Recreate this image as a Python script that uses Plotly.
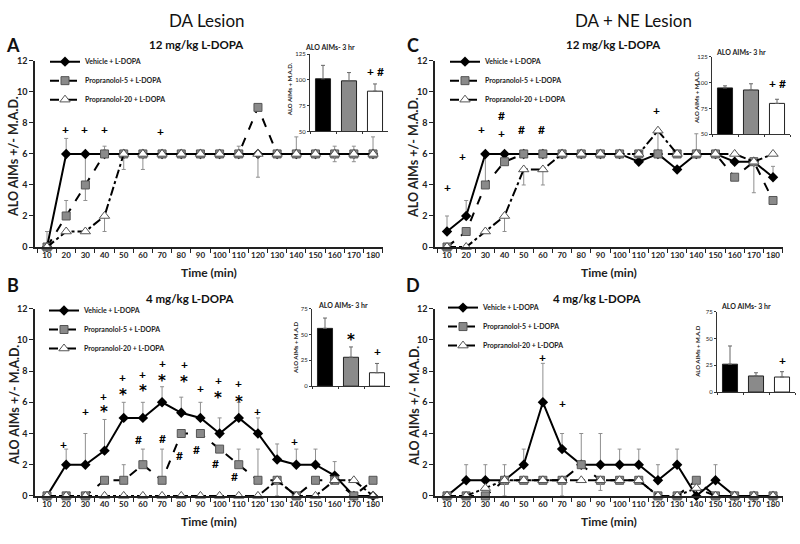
import plotly.graph_objects as go

# ---------------- DATA ----------------
times = ["10", "20", "30", "40", "50", "60", "70", "80", "90", "100",
         "110", "120", "130", "140", "150", "160", "170", "180"]
y_ticks = [0, 2, 4, 6, 8, 10, 12]
groups = ["Vehicle + L-DOPA", "Propranolol-5 + L-DOPA", "Propranolol-20 + L-DOPA"]
bar_cats = ["Vehicle", "Propranolol-5", "Propranolol-20"]

# Panel A: DA lesion, 12 mg/kg
A_veh = [0, 6, 6, 6, 6, 6, 6, 6, 6, 6, 6, 6, 6, 6, 6, 6, 6, 6]
A_veh_up = [1, 1, 0, 0, 0, 0, 0, 0, 0, 0, 0, 0, 0, 1.1, 0, 0, 0, 1.1]
A_veh_dn = [0, 0, 3, 0, 0, 0, 0, 0, 0, 0, 0, 0, 0, 0, 0, 0, 0, 0]
A_p5 = [0, 2, 4, 6, 6, 6, 6, 6, 6, 6, 6, 9, 6, 6, 6, 6, 6, 6]
A_p5_up = [0, 1, 0, 0.5, 0, 0, 0, 0, 0, 0, 0.5, 0, 0, 0, 0, 0, 0, 0]
A_p5_dn = [0] * 18
A_p20 = [0, 1, 1, 2, 6, 6, 6, 6, 6, 6, 6, 6, 6, 6, 6, 6, 6, 6]
A_p20_up = [0, 0, 0, 0, 0, 0, 0, 0, 0, 0, 0, 0, 0, 0, 0, 0.5, 0.5, 0]
A_p20_dn = [0, 0, 0, 1, 1, 1, 0, 0, 0, 0, 0, 1.5, 0, 0, 0, 0.5, 0.5, 0]

# Panel C: DA + NE lesion, 12 mg/kg
C_veh = [1, 2, 6, 6, 6, 6, 6, 6, 6, 6, 5.5, 6, 5, 6, 6, 5.5, 5.5, 4.5]
C_veh_up = [1, 1, 0, 0, 0, 0, 0, 0, 0, 0, 0, 0, 0, 0, 0, 0, 0, 0.7]
C_veh_dn = [0, 0, 2, 0, 0, 0, 0, 0, 0, 0, 0, 0, 0, 0, 0, 0, 0, 0]
C_p5 = [0, 1, 4, 5.5, 6, 6, 6, 6, 6, 6, 6, 6, 6, 6, 6, 4.5, 5.5, 3]
C_p5_up = [0] * 18
C_p5_dn = [0] * 18
C_p20 = [0, 0, 1, 2, 5, 5, 6, 6, 6, 6, 6, 7.5, 6, 6, 6, 6, 5.5, 6]
C_p20_up = [0, 0, 0, 0, 0, 0, 0, 0, 0, 0, 0, 0, 0, 1.3, 0, 0, 0, 0]
C_p20_dn = [0, 0, 0, 1, 1, 1, 0, 0, 0, 0, 0, 1.5, 0, 0, 0, 0, 2, 0]

# Panel B: DA lesion, 4 mg/kg
B_veh = [0, 2, 2, 2.9, 5, 5, 6, 5.33, 5, 4, 5, 4, 2.33, 2, 2, 1.3, 0, 0]
B_veh_up = [0, 1, 2, 2, 1, 1, 1, 1, 1, 1, 1, 1, 1, 1, 1, 0.9, 0, 0]
B_veh_dn = [0] * 18
B_p5 = [0, 0, 0, 1, 1, 2, 1, 4, 4, 3, 2, 1, 1, 0, 1, 1, 0, 1]
B_p5_up = [0, 0, 0, 0, 1, 1, 2, 0, 0, 0, 1, 2, 0, 0, 0, 0, 0, 0]
B_p5_dn = [0] * 18
B_p20 = [0, 0, 0, 0, 0, 0, 0, 0, 0, 0, 0, 0, 1, 0, 0, 1, 1, 0]
B_p20_up = [0] * 18
B_p20_dn = [0, 0, 0, 0, 0, 0, 0, 0, 0, 0, 0, 0, 1, 0, 0, 0, 0, 0]

# Panel D: DA + NE lesion, 4 mg/kg
D_veh = [0, 1, 1, 1, 2, 6, 3, 2, 2, 2, 2, 1, 2, 0, 1, 0, 0, 0]
D_veh_up = [0, 1, 1, 1, 1, 2.5, 1, 2, 2, 1, 1, 1, 1, 0, 1, 0, 0, 0]
D_veh_dn = [0] * 18
D_p5 = [0, 0, 0, 1, 1, 1, 1, 2, 1, 1, 1, 0, 0, 1, 0, 0, 0, 0]
D_p5_up = [0] * 18
D_p5_dn = [0] * 18
D_p20 = [0, 0, 0.5, 1, 1, 1, 1, 1, 1, 1, 1, 0, 0, 0.5, 0, 0, 0, 0]
D_p20_up = [0] * 18
D_p20_dn = [0, 0, 0, 1, 0, 0, 1, 0, 0.65, 0, 0, 0, 0, 0, 0, 0, 0, 0]

# Inset bars: total ALO AIMs over 3 hr
A_bar = [101, 99, 89]
A_bar_err = [13, 8, 7]
C_bar = [95, 93, 80]
C_bar_err = [2, 6, 4]
B_bar = [56, 28, 13]
B_bar_err = [10, 10, 9]
D_bar = [26, 15, 14]
D_bar_err = [17, 3, 5]

# significance markers: (time, level, symbol)
A_sig = [(19.5, 7.55, "+"), (29.6, 7.55, "+"), (40, 7.55, "+"), (69, 7.45, "+")]
C_sig = [(10, 3.85, "+"), (18, 5.85, "+"), (28.2, 7.6, "+"), (38.6, 8.5, "#"),
         (38.6, 7.3, "+"), (49, 7.55, "#"), (59.5, 7.55, "#"), (119, 8.8, "+")]
B_sig = [(18.7, 3.3, "+"), (30, 5.4, "+"), (39.5, 6.4, "+"), (39.5, 5.56, "*"),
         (49.4, 7.6, "+"), (49.4, 6.67, "*"), (60, 7.8, "+"), (60, 6.9, "*"),
         (70, 8.5, "+"), (70, 7.55, "*"), (81.7, 8.4, "+"), (81.2, 7.5, "*"),
         (90, 6.9, "+"), (99.4, 7.4, "+"), (99.4, 6.5, "*"), (110, 7.2, "+"),
         (110, 6.2, "*"), (120, 5.4, "+"), (139, 3.5, "+"),
         (57.7, 3.6, "#"), (70, 3.67, "#"), (79, 2.56, "#"), (88, 2.98, "#"),
         (97.7, 2.1, "#"), (108, 1.22, "#")]
D_sig = [(60, 8.9, "+"), (70, 5.9, "+")]
A_bar_sig = [("Propranolol-20", 108, "+ #")]
C_bar_sig = [("Propranolol-20", 99.5, "+ #")]
B_bar_sig = [("Propranolol-5", 48, "*"), ("Propranolol-20", 34, "+")]
D_bar_sig = [("Propranolol-20", 29, "+")]

# ---------------- LAYOUT HELPERS ----------------
W, H = 800, 544
FONT = "Lato, 'Open Sans', Arial, sans-serif"


def dxp(a, b):
    return [a / W, b / W]


def dyp(top, bottom):
    return [1 - bottom / H, 1 - top / H]


def px(x):
    return x / W


def py(y):
    return 1 - y / H


fig = go.Figure()

panels = [
    ("A", "", (35, 383), (56, 246),
     (A_veh, A_veh_up, A_veh_dn, A_p5, A_p5_up, A_p5_dn, A_p20, A_p20_up, A_p20_dn),
     "legend", (45, 42), A_sig),
    ("C", "2", (435, 783), (56, 246),
     (C_veh, C_veh_up, C_veh_dn, C_p5, C_p5_up, C_p5_dn, C_p20, C_p20_up, C_p20_dn),
     "legend2", (445, 42), C_sig),
    ("B", "3", (35, 383), (309, 500),
     (B_veh, B_veh_up, B_veh_dn, B_p5, B_p5_up, B_p5_dn, B_p20, B_p20_up, B_p20_dn),
     "legend3", (44, 296), B_sig),
    ("D", "4", (435, 783), (309, 500),
     (D_veh, D_veh_up, D_veh_dn, D_p5, D_p5_up, D_p5_dn, D_p20, D_p20_up, D_p20_dn),
     "legend4", (443, 293), D_sig),
]

styles = [
    dict(line=dict(color="black", width=2),
         marker=dict(symbol="diamond", size=8, color="black")),
    dict(line=dict(color="black", width=2, dash="dash"),
         marker=dict(symbol="square", size=8, color="#8a8a8a",
                     line=dict(color="#555555", width=1))),
    dict(line=dict(color="black", width=2, dash="dashdot"),
         marker=dict(symbol="triangle-up", size=9, color="white",
                     line=dict(color="#555555", width=1))),
]

annotations = []


def t_to_idx(t):
    return (t - 10.0) / 10.0


def ann(**kw):
    base = dict(showarrow=False, xanchor="center", yanchor="middle")
    base.update(kw)
    annotations.append(base)


def sig_font(s):
    if s == "*":
        return dict(font=dict(family="'DejaVu Sans', sans-serif", size=15,
                              color="black", weight="bold"), yshift=-3)
    return dict(font=dict(family=FONT, size=12, color="black", weight="bold"))


for name, sfx, xpix, ypix, data, leg, legpos, sig in panels:
    xa = "x" + sfx
    ya = "y" + sfx
    for k in range(3):
        vals, up, dn = data[3 * k], data[3 * k + 1], data[3 * k + 2]
        fig.add_trace(go.Scatter(
            x=times, y=vals, mode="lines+markers", name=groups[k],
            xaxis=xa, yaxis=ya, legend=leg, cliponaxis=False,
            error_y=dict(type="data", symmetric=False, array=up, arrayminus=dn,
                         color="#8f8f8f", thickness=1, width=2),
            **styles[k]))
    fig.layout["xaxis" + sfx] = dict(
        domain=dxp(*xpix), anchor=ya, type="category", range=[-0.626, 17.52],
        showline=True, linecolor="#222", linewidth=1.5, ticks="outside",
        tickson="boundaries", ticklen=4, tickcolor="#222", showgrid=False,
        zeroline=False, tickangle=0,
        tickfont=dict(family=FONT, size=8, color="#222", weight="bold"))
    fig.layout["yaxis" + sfx] = dict(
        domain=dyp(*ypix), anchor=xa, range=[0, 12], tickvals=y_ticks,
        showline=True, linecolor="#222", linewidth=1.5, ticks="outside",
        ticklen=4, tickcolor="#222", showgrid=False, zeroline=False,
        tickfont=dict(family=FONT, size=9, color="#222", weight="bold"))
    fig.layout[leg] = dict(
        x=px(legpos[0]), y=py(legpos[1]), xanchor="left", yanchor="top",
        bgcolor="rgba(0,0,0,0)", tracegroupgap=0, itemwidth=30,
        font=dict(family=FONT, size=7, color="#222", weight="bold"))
    for (t, lvl, s) in sig:
        ann(x=t_to_idx(t), y=lvl, xref=xa, yref=ya, text=s, **sig_font(s))
    cx = (xpix[0] + xpix[1]) / 2
    ann(x=px(cx), y=py(ypix[1] + 26), xref="paper", yref="paper",
        text="Time (min)",
        font=dict(family=FONT, size=12, color="#222", weight="bold"))
    ann(x=px(xpix[0] - 21), y=py((ypix[0] + ypix[1]) / 2 + 3), xref="paper",
        yref="paper", text="ALO AIMs +/- M.A.D.", textangle=-90,
        font=dict(family=FONT, size=12.5, color="#222", weight="bold"))

# ---------------- INSETS ----------------
insets = [
    ("5", (310, 388), (49, 128), [50, 125], [50, 75, 100, 125], A_bar, A_bar_err,
     A_bar_sig, "ALO AIMs + M.A.D.", (289, 85), (330, 42)),
    ("6", (712, 790), (52, 131), [50, 125], [50, 75, 100, 125], C_bar, C_bar_err,
     C_bar_sig, "ALO AIMs + M.A.D.", (696, 93), (741, 47)),
    ("7", (312, 390), (309, 388), [0, 75], [0, 25, 50, 75], B_bar, B_bar_err,
     B_bar_sig, "ALO AIMs + M.A.D", (296, 349), (343, 305)),
    ("8", (717, 795), (312, 394), [0, 75], [0, 25, 50, 75], D_bar, D_bar_err,
     D_bar_sig, "ALO AIMs + M.A.D", (698, 353), (746, 306)),
]
bar_colors = ["black", "#8a8a8a", "white"]
for sfx, xpix, ypix, yr, yt, vals, err, bsig, ytitle, ytpos, tpos in insets:
    xa, ya = "x" + sfx, "y" + sfx
    fig.add_trace(go.Bar(
        x=bar_cats, y=vals, xaxis=xa, yaxis=ya, showlegend=False, width=0.58,
        marker=dict(color=bar_colors, line=dict(color="#222", width=1)),
        error_y=dict(type="data", symmetric=False, array=err,
                     arrayminus=[0, 0, 0], color="#666", thickness=1, width=2)))
    fig.layout["xaxis" + sfx] = dict(
        domain=dxp(*xpix), anchor=ya, type="category", range=[-0.5, 2.5],
        showline=True, linecolor="#333", linewidth=1, ticks="outside",
        tickson="boundaries", ticklen=2, tickcolor="#333",
        showticklabels=False, showgrid=False, zeroline=False)
    fig.layout["yaxis" + sfx] = dict(
        domain=dyp(*ypix), anchor=xa, range=yr, tickvals=yt, showline=True,
        linecolor="#333", linewidth=1, ticks="outside", ticklen=2,
        tickcolor="#333", showgrid=False, zeroline=False,
        tickfont=dict(family=FONT, size=6, color="#222"))
    for cat, lvl, s in bsig:
        ann(x=cat, y=lvl, xref=xa, yref=ya, text=s, **sig_font(s))
    ann(x=px(ytpos[0]), y=py(ytpos[1]), xref="paper", yref="paper",
        text=ytitle, textangle=-90,
        font=dict(family=FONT, size=6, color="#222", weight="bold"))
    ann(x=px(tpos[0]), y=py(tpos[1]), xref="paper", yref="paper",
        text="ALO AIMs- 3 hr",
        font=dict(family=FONT, size=7, color="#222", weight="bold"))

# ---------------- TITLES ----------------
texts = [
    ("DA Lesion", 207, 15, 17, "normal"),
    ("DA + NE Lesion", 633, 15, 17, "normal"),
    ("12 mg/kg L-DOPA", 196, 39, 11.5, "bold"),
    ("12 mg/kg L-DOPA", 613, 39, 11.5, "bold"),
    ("4 mg/kg L-DOPA", 190, 299, 11.5, "bold"),
    ("4 mg/kg L-DOPA", 597, 299, 11.5, "bold"),
    ("A", 13, 40, 18, "bold"),
    ("C", 413, 40, 18, "bold"),
    ("B", 13, 285, 18, "bold"),
    ("D", 413, 285, 18, "bold"),
]
for t, x, y, s, w in texts:
    ann(x=px(x), y=py(y), xref="paper", yref="paper", text=t,
        font=dict(family=FONT, size=s, color="#111", weight=w))

fig.update_layout(
    width=W, height=H, margin=dict(l=0, r=0, t=0, b=0),
    paper_bgcolor="white", plot_bgcolor="white",
    font=dict(family=FONT, color="#222"),
    annotations=annotations, bargap=0.4,
)

fig.write_html(
    "out.html",
    config={"displayModeBar": False},
    post_script="document.body.style.margin='0';document.body.style.padding='0';",
)
